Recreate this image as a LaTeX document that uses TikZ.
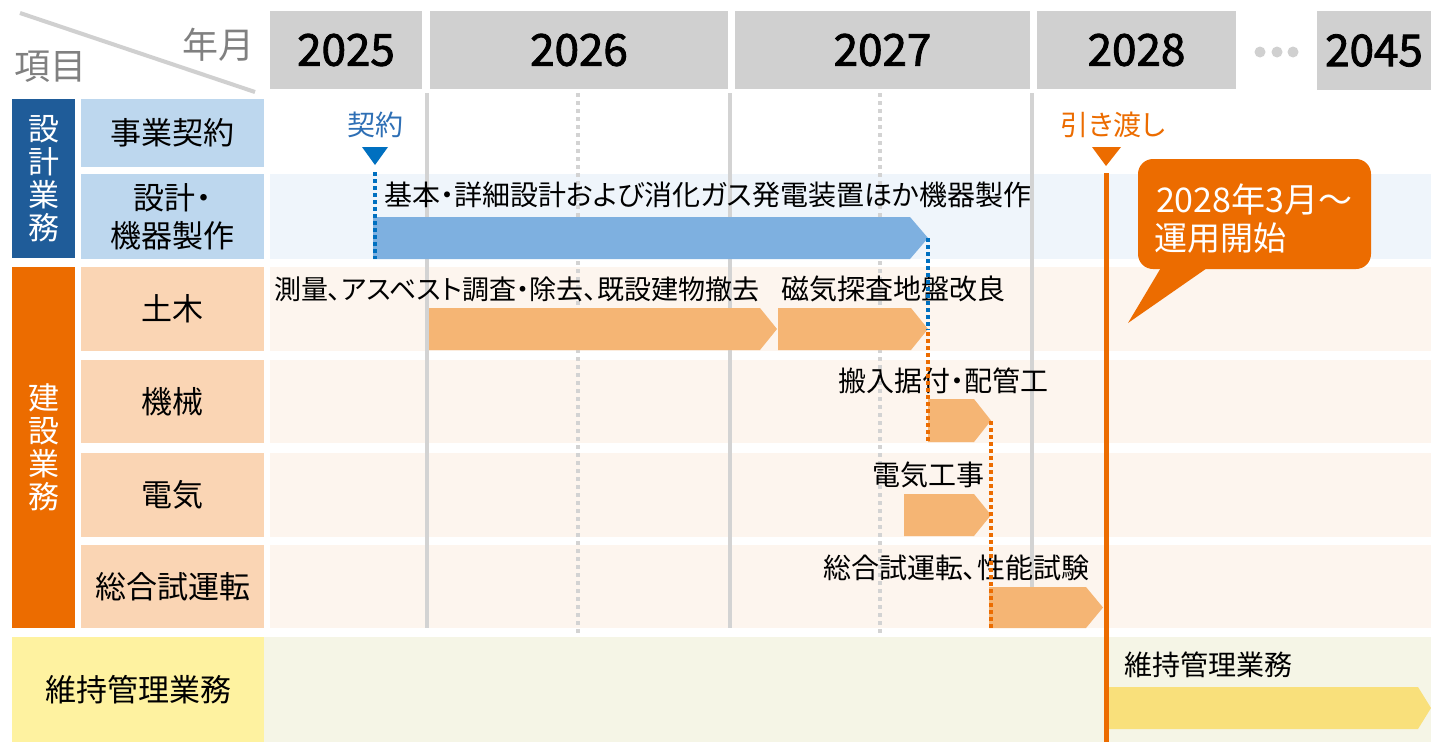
\documentclass[tikz,border=0pt]{standalone}
\usepackage{fontspec}
\setmainfont[RawFeature=+palt]{Noto Sans CJK JP}
\newfontfamily\yearfont[FakeBold=2]{Noto Sans CJK JP}
\definecolor{hdrgray}{HTML}{D0D0D0}
\definecolor{gridgray}{HTML}{D3D3D3}
\definecolor{graytxt}{HTML}{808080}
\definecolor{dblue}{HTML}{1F5C99}
\definecolor{lblue}{HTML}{BDD7EE}
\definecolor{orng}{HTML}{EC6C00}
\definecolor{peach}{HTML}{FAD5B4}
\definecolor{peachbg}{HTML}{FDF5EE}
\definecolor{bluebg}{HTML}{EFF5FB}
\definecolor{bluebarc}{HTML}{7EB0E0}
\definecolor{orbarc}{HTML}{F5B574}
\definecolor{ylab}{HTML}{FEF2A0}
\definecolor{greenbg}{HTML}{F5F5E6}
\definecolor{yelbarc}{HTML}{F9E07B}
\definecolor{tblue}{HTML}{2E6FB5}
\definecolor{triblue}{HTML}{0070C0}
\newcommand\ganttbar[6]{\fill[fill=#1] (#2,#3) -- (#4,#3) -- (#5,{(#3+#6)/2}) -- (#4,#6) -- (#2,#6) -- cycle;}
\begin{document}
\begin{tikzpicture}[x=1pt,y=-1pt,
  every node/.style={inner sep=0pt,outer sep=0pt},
  hdr/.style={fill=hdrgray,minimum height=78pt,font=\fontsize{44}{44}\yearfont},
  lab/.style={align=center,font=\fontsize{31}{38}\selectfont},
  vlab/.style={align=center,text=white,minimum width=63pt,font=\fontsize{31}{33}\selectfont},
  bartxt/.style={anchor=west,font=\fontsize{28}{32}\selectfont},
  gridline/.style={gridgray,line width=4.5pt},
  griddot/.style={gridgray,line width=3.5pt,dash pattern=on 4pt off 4pt},
  bluedot/.style={triblue,line width=3.5pt,dash pattern=on 3.5pt off 3.5pt},
  orngdot/.style={orng,line width=3.5pt,dash pattern=on 3.5pt off 3.5pt}]
\useasboundingbox (0,0) rectangle (1431,742);
\fill[white] (0,0) rectangle (1431,742);
% row backgrounds
\fill[bluebg] (270,174) rectangle (1431,259);
\fill[peachbg] (270,267) rectangle (1431,351);
\fill[peachbg] (270,360) rectangle (1431,443);
\fill[peachbg] (270,453) rectangle (1431,537);
\fill[peachbg] (270,545) rectangle (1431,628);
\fill[greenbg] (264,637) rectangle (1431,742);
% corner header
\draw[hdrgray,line width=4pt] (20,13) -- (255,92);
\node[text=graytxt,font=\fontsize{36}{36}\selectfont] (nengetsu) at (218,45) {年月};
\node[text=graytxt,font=\fontsize{36}{36}\selectfont] (koumoku) at (50,67) {項目};
% year headers
\node[hdr,minimum width=152pt] (y25) at (346,50) {2025};
\node[hdr,minimum width=298pt] (y26) at (579,50) {2026};
\node[hdr,minimum width=295pt] (y27) at (882.5,50) {2027};
\node[hdr,minimum width=199pt] (y28) at (1136.5,50) {2028};
\node[hdr,minimum width=114pt,minimum height=79pt] (y45) at (1374,50.5) {2045};
\foreach \x in {1260,1277,1293} \fill[hdrgray] (\x,52) circle[radius=5.5pt];
% left labels
\node[vlab,fill=dblue,minimum height=159pt] (g1) at (43.5,178.5) {設\\計\\業\\務};
\node[lab,fill=lblue,minimum width=183pt,minimum height=68pt] (jk) at (172.5,133) {事業契約};
\node[lab,fill=lblue,minimum width=183pt,minimum height=85pt] (sk) at (172.5,216.5) {設計・\\機器製作};
\node[vlab,fill=orng,minimum height=361pt] (g2) at (43.5,447.5) {建\\設\\業\\務};
\node[lab,fill=peach,minimum width=183pt,minimum height=84pt] (dob) at (172.5,309) {土木};
\node[lab,fill=peach,minimum width=183pt,minimum height=83pt] (kik) at (172.5,401.5) {機械};
\node[lab,fill=peach,minimum width=183pt,minimum height=84pt] (den) at (172.5,495) {電気};
\node[lab,fill=peach,minimum width=183pt,minimum height=83pt] (sog) at (172.5,586.5) {総合試運転};
\node[lab,fill=ylab,minimum width=252pt,minimum height=105pt] (iji) at (138,689.5) {維持管理業務};
% grid lines
\foreach \x in {427,730,1032} \draw[gridline] (\x,93) -- (\x,628);
\foreach \x in {578,880} \draw[griddot] (\x,93) -- (\x,634);
% bar texts
\node[bartxt] (t1) at (384,195) {基本・詳細設計および消化ガス発電装置ほか機器製作};
\node[bartxt,font=\fontsize{27}{32}\selectfont] (t2) at (274,289) {測量、アスベスト調査・除去、既設建物撤去};
\node[bartxt] (t3) at (781,289) {磁気探査地盤改良};
\node[bartxt] (t4) at (838,381) {搬入据付・配管工};
\node[bartxt] (t5) at (872,475) {電気工事};
\node[bartxt] (t6) at (823,568) {総合試運転、性能試験};
\node[bartxt] (t7) at (1124,665) {維持管理業務};
% bars
\ganttbar{bluebarc}{373}{217}{910}{928}{259}
\ganttbar{orbarc}{429}{308}{760}{777}{350}
\ganttbar{orbarc}{778}{308}{911}{928}{350}
\ganttbar{orbarc}{928}{399}{974}{991}{442}
\ganttbar{orbarc}{904}{494}{974}{991}{536}
\ganttbar{orbarc}{989}{587}{1086}{1103}{628}
\ganttbar{yelbarc}{1108}{687}{1418}{1431}{729}
% dotted connectors
\coordinate (ka) at (375,172); \coordinate (kb) at (375,259);
\coordinate (ba) at (928,238); \coordinate (bb) at (928,330);
\coordinate (oa) at (928,332); \coordinate (ob) at (928,442);
\coordinate (pa) at (991,421); \coordinate (pb) at (991,628);
\draw[bluedot] (ka) -- (kb);
\draw[bluedot] (ba) -- (bb);
\draw[orngdot] (oa) -- (ob);
\draw[orngdot] (pa) -- (pb);
% milestones
\node[text=tblue,font=\fontsize{28}{28}\selectfont] (keiyaku) at (375,125) {契約};
\fill[triblue] (362,147) -- (388,147) -- (375,165) -- cycle;
\node[text=orng,font=\fontsize{28}{28}\selectfont] (hikiwatashi) at (1113,125) {引き渡し};
\fill[orng] (1092,147) -- (1121,147) -- (1106,166) -- cycle;
\coordinate (hl1) at (1106,173); \coordinate (hl2) at (1106,742);
\draw[orng,line width=5pt] (hl1) -- (hl2);
% callout
\node[fill=orng,rounded corners=15pt,minimum width=233pt,minimum height=110pt] (co) at (1254.5,214) {};
\fill[orng] (1162,266) -- (1128,323) -- (1210,266) -- cycle;
\node[anchor=base west,text=white,font=\fontsize{34}{34}\selectfont] (co1) at (1156,212) {2028年3月～};
\node[anchor=base west,text=white,font=\fontsize{33}{33}\selectfont] (co2) at (1154,250) {運用開始};
\end{tikzpicture}
\end{document}
